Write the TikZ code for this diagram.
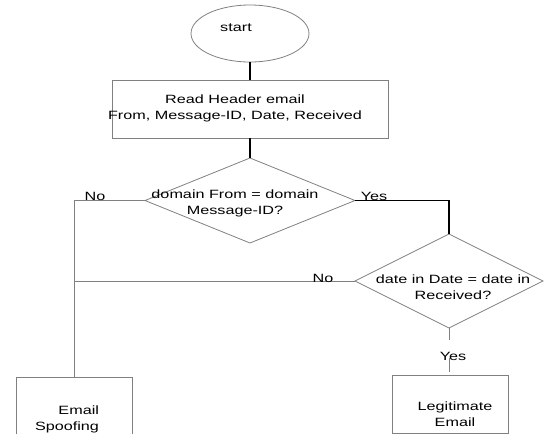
\documentclass[tikz,border=0pt]{standalone}
\usepackage{fontspec}
\setmainfont{Liberation Sans}[FakeStretch=1.35]
\usetikzlibrary{shapes.geometric}
\definecolor{lg}{HTML}{808080}
\begin{document}
\begin{tikzpicture}[x=1pt,y=-1pt,
  font=\fontsize{12}{16}\selectfont,
  shp/.style={draw=lg, line width=0.8pt, inner sep=0pt, outer sep=0pt},
  gline/.style={draw=lg, line width=0.9pt},
  bline/.style={draw=black, line width=1.6pt},
  lbl/.style={inner sep=0pt, outer sep=0pt}]
\useasboundingbox (0,0) rectangle (544,434);
\node[shp, ellipse, minimum width=118pt, minimum height=57pt,
  label={[lbl, xshift=-14pt, yshift=5.5pt]center:start}] (start) at (250,33.5) {};
\node[shp, rectangle, minimum width=276pt, minimum height=58pt,
  label={[lbl, align=center, xshift=-15pt, yshift=1pt]center:{Read Header email\\From, Message-ID, Date, Received}}] (read) at (250,109) {};
\node[shp, diamond, minimum width=210pt, minimum height=85pt,
  label={[lbl, align=center, xshift=-15pt, yshift=-3pt]center:{domain From = domain\\Message-ID?}}] (d1) at (250,200.5) {};
\node[shp, diamond, minimum width=188pt, minimum height=94pt,
  label={[lbl, align=center, xshift=4pt, yshift=-6pt]center:{date in Date = date in\\Received?}}] (d2) at (449,281) {};
\node[shp, rectangle, minimum width=116pt, minimum height=70pt] (spoof) at (74,412) {};
\node[lbl, align=right, anchor=east] (spooft) at (99,419.5) {Email\\Spoofing};
\node[shp, rectangle, minimum width=116pt, minimum height=58pt,
  label={[lbl, align=center, xshift=5pt, yshift=-10pt]center:{Legitimate\\Email}}] (legit) at (450,404) {};
% connectors
\draw[bline] (start.south) -- (read.north);
\draw[bline] (read.south) -- (d1.north);
\draw[bline] (d1.east) -| (d2.north);
\draw[gline] (d1.west) -| (spoof.north);
\coordinate (j) at (spoof.north |- d2.west);
\draw[gline] (d2.west) -- (j);
\coordinate (y1) at (449,340);
\coordinate (y2) at (449,358);
\coordinate (y3) at (449,372);
\draw[gline] (d2.south) -- (y1);
\draw[gline] (y2) -- (y3);
% branch labels
\node[lbl] (no1) at (95,196) {No};
\node[lbl] (yes1) at (374,196.5) {Yes};
\node[lbl] (no2) at (323,278) {No};
\node[lbl] (yes2) at (453,356) {Yes};
\end{tikzpicture}
\end{document}
